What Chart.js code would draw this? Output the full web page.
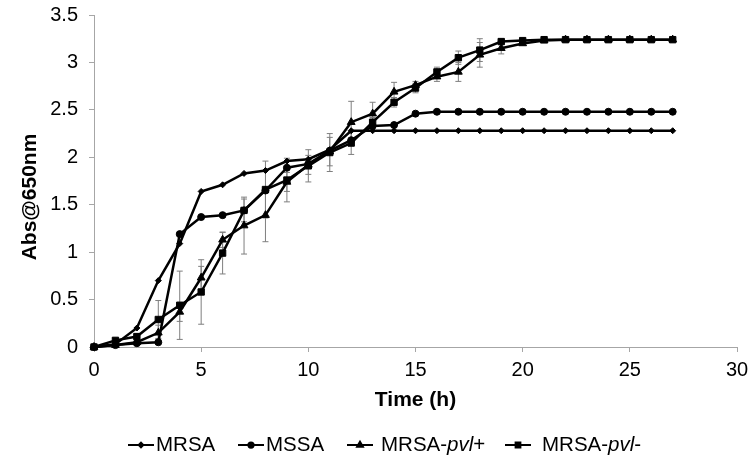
<!DOCTYPE html>
<html>
<head>
<meta charset="utf-8">
<script src="https://cdn.jsdelivr.net/npm/chart.js@4.4.0/dist/chart.umd.min.js"></script>
<style>
    html, body { margin: 0; padding: 0; background: #fff; }
    #wrap { width: 750px; height: 463px; }
</style>
</head>
<body>
<div id="wrap"><canvas id="growth-chart"></canvas></div>
<script>
// Growth curves, absorbance at 650 nm vs time
const hours = [0, 1, 2, 3, 4, 5, 6, 7, 8, 9, 10, 11, 12, 13, 14, 15, 16, 17, 18, 19, 20, 21, 22, 23, 24, 25, 26, 27];
const seriesNames = ['MRSA', 'MSSA', 'MRSA-pvl+', 'MRSA-pvl-'];
const yTitle = 'Abs@650nm';
const xTitle = 'Time (h)';

const mrsa = [0, 0.03, 0.2, 0.7, 1.09, 1.64, 1.71, 1.83, 1.86, 1.96, 1.98, 2.08, 2.28, 2.28,
    2.28, 2.28, 2.28, 2.28, 2.28, 2.28, 2.28, 2.28, 2.28, 2.28, 2.28, 2.28, 2.28, 2.28];
const mssa = [0, 0.02, 0.04, 0.05, 1.19, 1.37, 1.39, 1.44, 1.65, 1.89, 1.93, 2.07, 2.18, 2.33,
    2.34, 2.46, 2.48, 2.48, 2.48, 2.48, 2.48, 2.48, 2.48, 2.48, 2.48, 2.48, 2.48, 2.48];
const pvlPos = [0, 0.02, 0.05, 0.15, 0.37, 0.73, 1.13, 1.28, 1.39, 1.74, 1.92, 2.06, 2.37, 2.46,
    2.69, 2.76, 2.85, 2.90, 3.08, 3.15, 3.20, 3.23, 3.24, 3.24, 3.24, 3.24, 3.24, 3.24];
const pvlNeg = [0, 0.07, 0.11, 0.29, 0.44, 0.58, 0.99, 1.44, 1.66, 1.76, 1.91, 2.05, 2.15, 2.37,
    2.58, 2.73, 2.90, 3.05, 3.13, 3.22, 3.23, 3.24, 3.24, 3.24, 3.24, 3.24, 3.24, 3.24];

// standard deviations (error bars)
const pvlPosErr = [0, 0.01, 0.02, 0.08, 0.1, 0.12, 0.08, 0.3, 0.28, 0.1, 0.1, 0.15, 0.22, 0.12,
    0.1, 0.04, 0.05, 0.1, 0.13, 0.06, 0.02, 0.02, 0.01, 0.01, 0.01, 0.01, 0.01, 0.01];
const pvlNegErr = [0, 0.02, 0.03, 0.2, 0.36, 0.34, 0.22, 0.12, 0.3, 0.23, 0.17, 0.2, 0.12, 0.05,
    0.05, 0.05, 0.05, 0.07, 0.12, 0.03, 0.02, 0.02, 0.01, 0.01, 0.01, 0.01, 0.01, 0.01];

const FONT = "'Liberation Sans', Arial, sans-serif";
const axisGrey = '#a6a6a6';

const toPoints = (vals) => vals.map((v, i) => ({ x: hours[i], y: v }));

const errorBarPlugin = {
    id: 'errorBars',
    beforeDatasetsDraw(chart) {
        const { ctx, scales: { x, y } } = chart;
        ctx.save();
        ctx.strokeStyle = '#7f7f7f';
        ctx.lineWidth = 1;
        chart.data.datasets.forEach((ds) => {
            if (!ds.errors) return;
            ds.data.forEach((p, i) => {
                const e = ds.errors[i];
                if (!e) return;
                const px = x.getPixelForValue(p.x);
                const top = y.getPixelForValue(p.y + e);
                const bot = y.getPixelForValue(p.y - e);
                ctx.beginPath();
                ctx.moveTo(px, top); ctx.lineTo(px, bot);
                ctx.moveTo(px - 3, top); ctx.lineTo(px + 3, top);
                ctx.moveTo(px - 3, bot); ctx.lineTo(px + 3, bot);
                ctx.stroke();
            });
        });
        ctx.restore();
    }
};

// y title sits a bit below the plot's middle, like the original
const yTitlePlugin = {
    id: 'yTitle',
    afterDraw(chart) {
        const ctx = chart.ctx;
        ctx.save();
        ctx.translate(30, 197);
        ctx.rotate(-Math.PI / 2);
        ctx.font = 'bold 21px ' + FONT;
        ctx.fillStyle = '#000';
        ctx.textAlign = 'center';
        ctx.textBaseline = 'middle';
        ctx.fillText(yTitle, 0, 0);
        ctx.restore();
    }
};

// legend drawn by hand so "pvl" can be italic
const legendPlugin = {
    id: 'bottomLegend',
    afterDraw(chart) {
        const ctx = chart.ctx;
        const y = 445;
        const starts = [128, 238, 347, 505];
        const gaps = [2, 2, 8, 11];
        ctx.save();
        ctx.textBaseline = 'middle';
        chart.data.datasets.forEach((ds, i) => {
            let x = starts[i];
            ctx.strokeStyle = '#000';
            ctx.fillStyle = '#000';
            ctx.lineWidth = 2;
            ctx.beginPath();
            ctx.moveTo(x, y);
            ctx.lineTo(x + 26, y);
            ctx.stroke();
            Chart.helpers.drawPoint(ctx, {
                pointStyle: ds.pointStyle,
                radius: ds.pointRadius * 0.75,
                borderWidth: 1
            }, x + 13, y);
            x += 26 + gaps[i];
            ds.label.split(/(pvl)/).forEach((part) => {
                if (!part) return;
                ctx.font = (part === 'pvl' ? 'italic ' : '') + '20.5px ' + FONT;
                ctx.fillText(part, x, y);
                x += ctx.measureText(part).width;
            });
        });
        ctx.restore();
    }
};

const lineSet = (label, vals, style, radius, errors) => ({
    label,
    data: toPoints(vals),
    errors,
    borderColor: '#000',
    backgroundColor: '#000',
    borderWidth: 2.5,
    pointStyle: style,
    pointRadius: radius,
    pointBorderWidth: 1,
    pointBackgroundColor: '#000',
    pointBorderColor: '#000',
    tension: 0,
    clip: false
});

new Chart(document.getElementById('growth-chart'), {
    type: 'line',
    data: {
        datasets: [
            lineSet(seriesNames[0], mrsa, 'rectRot', 3),
            lineSet(seriesNames[1], mssa, 'circle', 3.5),
            lineSet(seriesNames[2], pvlPos, 'triangle', 4.5, pvlPosErr),
            lineSet(seriesNames[3], pvlNeg, 'rect', 4.5, pvlNegErr)
        ]
    },
    options: {
        responsive: true,
        maintainAspectRatio: false,
        animation: false,
        devicePixelRatio: 1,
        layout: { padding: { top: 15, right: 13, bottom: 49, left: 0 } },
        plugins: {
            legend: { display: false },
            tooltip: { enabled: false }
        },
        scales: {
            x: {
                type: 'linear',
                min: 0,
                max: 30,
                afterFit: (s) => {
                    s.height = 67;
                    s.paddingLeft = 0;
                    s.paddingRight = 0;
                },
                ticks: { stepSize: 5, color: '#000', padding: 6, font: { family: FONT, size: 20 } },
                grid: { drawOnChartArea: false, color: axisGrey, tickLength: 5 },
                border: { color: axisGrey, width: 1 },
                title: {
                    display: true,
                    text: xTitle,
                    color: '#000',
                    font: { family: FONT, size: 21, weight: 'bold' },
                    padding: { top: 0, bottom: 1 }
                }
            },
            y: {
                min: 0,
                max: 3.5,
                afterFit: (s) => {
                    s.width = 94;
                    s.paddingTop = 0;
                    s.paddingBottom = 0;
                },
                ticks: {
                    stepSize: 0.5,
                    color: '#000',
                    padding: 11,
                    font: { family: FONT, size: 20 },
                    callback: (v) => String(v)
                },
                grid: { drawOnChartArea: false, color: axisGrey, tickLength: 5 },
                border: { color: axisGrey, width: 1 },
                title: { display: false }
            }
        }
    },
    plugins: [errorBarPlugin, yTitlePlugin, legendPlugin]
});
</script>
</body>
</html>
